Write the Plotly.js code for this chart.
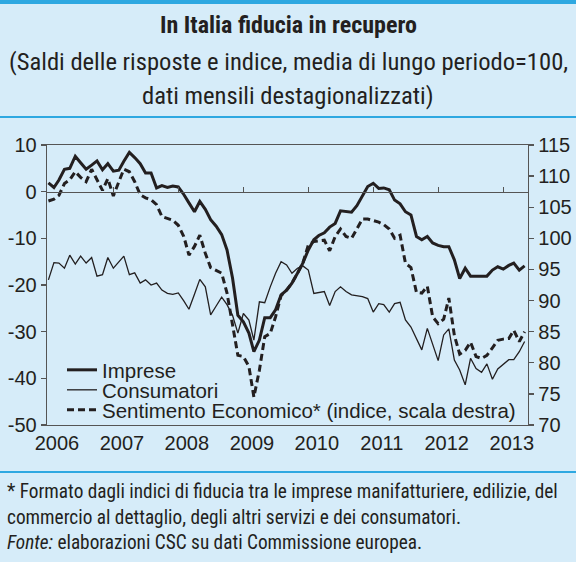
<!DOCTYPE html>
<html>
<head>
<meta charset="utf-8">
<script src="https://cdn.plot.ly/plotly-3.0.1.min.js"></script>
<style>
html,body{margin:0;padding:0;background:#d6ecf9;}
#wrap{position:relative;width:576px;height:562px;}
#chart{width:576px;height:562px;}
#toprule{position:absolute;left:0;top:0;width:576px;height:4px;background:#2ea8e1;z-index:10;}
</style>
</head>
<body>
<div id="wrap"><div id="chart"></div><div id="toprule"></div></div>
<script>
// Monthly data, Jan 2006 - May 2013
const imprese = [
  1.9, 0.9, 2.5, 4.8, 5.0, 7.6, 6.2, 4.8, 5.7, 6.6, 4.7, 6.0,
  4.4, 4.6, 6.5, 8.4, 7.3, 6.0, 4.0, 4.0, 0.8, 1.3, 0.9, 1.2,
  1.0, -0.6, -2.4, -4.3, -2.1, -3.8, -6.0, -7.4, -9.2, -12.5, -18.5, -26.5,
  -27.9, -30.3, -34.3, -31.8, -27.0, -27.0, -25.3, -22.1, -21.1, -19.6, -17.5, -15.3,
  -12.5, -10.3, -9.4, -8.8, -7.6, -6.8, -4.1, -4.3, -4.4, -3.0, -0.8, 1.1,
  1.8, 0.7, 0.8, 0.4, -1.8, -2.6, -4.3, -5.0, -9.6, -10.3, -9.6, -11.0,
  -11.5, -11.8, -11.8, -14.6, -18.6, -16.4, -18.1, -18.1, -18.1, -18.1, -16.8, -16.1,
  -16.6, -15.8, -15.3, -16.8, -15.9
];
const consumatori = [
  -18.9, -15.2, -15.3, -16.4, -13.6, -15.5, -13.8, -15.3, -14.1, -18.1, -17.8, -14.1,
  -16.4, -15.0, -13.8, -17.8, -17.4, -19.6, -18.9, -20.0, -19.6, -21.1, -21.8, -22.0,
  -21.7, -23.4, -25.2, -22.0, -18.8, -20.4, -26.4, -24.5, -22.6, -24.2, -26.5, -30.3,
  -26.1, -27.5, -31.8, -23.6, -23.8, -20.4, -17.5, -15.0, -15.7, -17.5, -16.4, -15.9,
  -16.8, -21.8, -21.6, -21.4, -24.4, -21.4, -20.4, -21.4, -22.1, -22.3, -22.5, -22.9,
  -25.8, -24.0, -24.2, -25.8, -24.0, -23.7, -27.5, -29.0, -31.5, -33.9, -29.3, -32.8,
  -36.2, -30.7, -29.4, -36.1, -38.2, -41.4, -35.7, -37.9, -38.7, -36.9, -40.2, -38.0,
  -37.1, -36.0, -36.0, -34.3, -32.1
];
const sentimento = [
  106.0, 106.3, 106.9, 108.8, 109.4, 110.7, 109.8, 109.1, 111.1, 109.4, 107.7, 109.6,
  106.8, 109.1, 111.1, 110.7, 109.1, 107.0, 106.5, 106.2, 105.4, 103.5, 103.2, 102.9,
  102.1, 100.3, 97.3, 98.7, 100.5, 97.6, 95.3, 94.8, 94.4, 91.2, 85.8, 81.2,
  81.0, 79.4, 74.5, 78.8, 84.2, 84.7, 87.4, 90.8, 91.7, 92.8, 94.4, 96.0,
  98.9, 99.5, 99.6, 99.7, 98.0, 100.3, 101.5, 100.3, 100.0, 101.6, 103.1, 103.1,
  102.9, 102.6, 102.2, 101.5, 100.0, 100.5, 96.0, 95.3, 91.3, 91.2, 92.3, 87.4,
  86.3, 87.0, 90.4, 84.4, 81.4, 82.0, 83.3, 81.0, 80.7, 81.2, 82.4, 83.6,
  83.8, 83.9, 85.2, 83.4, 85.0
];
const seriesNames = ['Imprese', 'Consumatori', 'Sentimento Economico* (indice, scala destra)'];
const yearLabels = ['2006', '2007', '2008', '2009', '2010', '2011', '2012', '2013'];
const leftTickVals = [-50, -40, -30, -20, -10, 0, 10];
const leftTickText = ['-50', '-40', '-30', '-20', '-10', '0', '10'];
const rightTickVals = [70, 75, 80, 85, 90, 95, 100, 105, 110, 115];
const startYear = 2006;

// month categories
const months = [];
for (let i = 0; i < imprese.length; i++) {
  const y = startYear + Math.floor(i / 12);
  const m = (i % 12) + 1;
  months.push(y + '-' + String(m).padStart(2, '0') + '-01');
}
const labelPos = yearLabels.map(y => y + '-02-18');
const yearStarts = yearLabels.slice(1).map(y => y + '-01-01');

const INK = '#231f20';
const AX = '#555555';
const BG = '#d6ecf9';
const BLUE = '#2ea8e1';
const FONT = 'Liberation Sans, Arial, Helvetica, sans-serif';
const NARROW = '"Liberation Sans Narrow", "Arial Narrow", "Roboto Condensed", "DejaVu Sans Condensed", sans-serif';
const XR = ['2005-12-24', '2013-05-20'];

const traces = [
  {x: months, y: imprese, name: seriesNames[0], type: 'scatter', mode: 'lines',
   xaxis: 'x', yaxis: 'y', line: {color: INK, width: 3}, legend: 'legend', hoverinfo: 'skip'},
  {x: months, y: consumatori, name: seriesNames[1], type: 'scatter', mode: 'lines',
   xaxis: 'x2', yaxis: 'y', line: {color: INK, width: 1.3}, legend: 'legend2', hoverinfo: 'skip'},
  {x: months, y: sentimento, name: seriesNames[2], type: 'scatter', mode: 'lines',
   xaxis: 'x', yaxis: 'y2', line: {color: INK, width: 3, dash: '7px,4px'}, legend: 'legend3', hoverinfo: 'skip'}
];

const W = 576, H = 562, L = 47, R = 48, T = 145, B = 137;
const pw = W - L - R, ph = H - T - B;
const px = v => (v - L) / pw;
const py = v => (H - B - v) / ph;

function leg(yc) {
  return {x: px(62), xref: 'paper', y: py(yc), yref: 'paper',
    xanchor: 'left', yanchor: 'middle', bgcolor: 'rgba(0,0,0,0)', borderwidth: 0,
    font: {family: FONT, size: 20.5, color: INK}};
}
function note(text, x, y, size, anchor) {
  return {text: text, xref: 'paper', yref: 'paper', x: px(x), y: py(y),
    xanchor: anchor, yanchor: 'middle', showarrow: false,
    font: {family: NARROW, size: size, color: INK}};
}

const layout = {
  width: W, height: H,
  margin: {l: L, r: R, t: T, b: B, pad: 0, autoexpand: false},
  paper_bgcolor: BG, plot_bgcolor: BG,
  showlegend: true,
  xaxis: {type: 'date', range: XR, showline: true, mirror: true, linecolor: AX, linewidth: 1.3,
    ticks: '', tickvals: labelPos, ticktext: yearLabels, showgrid: false, zeroline: false,
    tickfont: {family: FONT, size: 20, color: INK}, fixedrange: true},
  xaxis2: {type: 'date', range: XR, overlaying: 'x', anchor: 'free', position: 50 / 60, side: 'bottom',
    showline: true, linecolor: AX, linewidth: 1.3, ticks: 'inside', ticklen: 5, tickwidth: 1.3, tickcolor: AX,
    tickvals: yearStarts, showticklabels: false, showgrid: false, zeroline: false},
  yaxis: {range: [-50, 10], tickvals: leftTickVals, ticktext: leftTickText, showline: true, linecolor: AX, linewidth: 1.3,
    ticks: 'outside', ticklen: 5, tickwidth: 1.3, tickcolor: AX, showgrid: false, zeroline: false,
    tickfont: {family: FONT, size: 20, color: INK}},
  yaxis2: {range: [70, 115], tickvals: rightTickVals, overlaying: 'y', side: 'right', anchor: 'x',
    showline: true, linecolor: AX, linewidth: 1.3, ticks: 'outside', ticklen: 5, tickwidth: 1.3, tickcolor: AX,
    showgrid: false, zeroline: false, tickfont: {family: FONT, size: 20, color: INK}},
  legend: leg(370), legend2: leg(390), legend3: leg(410),
  shapes: [
    {type: 'rect', xref: 'paper', yref: 'paper', x0: px(0), x1: px(W), y0: py(0), y1: py(4),
     fillcolor: BLUE, line: {width: 0}},
    {type: 'line', xref: 'paper', yref: 'paper', x0: px(0), x1: px(W), y0: py(117), y1: py(117), line: {color: BLUE, width: 2}},
    {type: 'line', xref: 'paper', yref: 'paper', x0: px(0), x1: px(W), y0: py(472), y1: py(472), line: {color: BLUE, width: 2}}
  ],
  annotations: [
    note('<b>In Italia fiducia in recupero</b>', 288, 25, 24, 'center'),
    note('(Saldi delle risposte e indice, media di lungo periodo=100,', 288, 62, 24.6, 'center'),
    note('dati mensili destagionalizzati)', 288, 95, 24.6, 'center'),
    note('* Formato dagli indici di fiducia tra le imprese manifatturiere, edilizie, del', 5, 491, 19.3, 'left'),
    note('commercio al dettaglio, degli altri servizi e dei consumatori.', 5, 517, 19.3, 'left'),
    note('<i>Fonte:</i> elaborazioni CSC su dati Commissione europea.', 5, 542, 19.3, 'left')
  ]
};

Plotly.newPlot('chart', traces, layout, {displayModeBar: false, staticPlot: true});
</script>
</body>
</html>
